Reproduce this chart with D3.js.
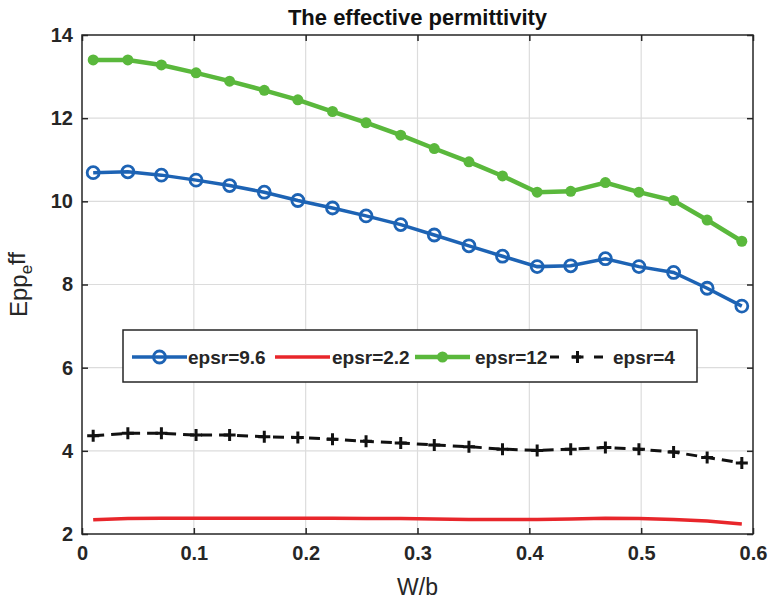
<!DOCTYPE html>
<html>
<head>
<meta charset="utf-8">
<script src="https://cdn.jsdelivr.net/npm/d3@7"></script>
<style>
  body { margin: 0; background: #fff; }
  svg { display: block; font-family: "Liberation Sans", Arial, sans-serif; }
</style>
</head>
<body>
<div id="chart"></div>
<script>
// W/b samples
var xVals = [0.010, 0.041, 0.071, 0.102, 0.132, 0.163, 0.193, 0.224, 0.254, 0.285,
             0.315, 0.346, 0.376, 0.407, 0.437, 0.468, 0.498, 0.529, 0.559, 0.590];
// effective permittivity for each substrate
var eps96 = [10.69, 10.71, 10.63, 10.51, 10.38, 10.22, 10.02, 9.84, 9.65, 9.44,
             9.19, 8.93, 8.68, 8.43, 8.45, 8.62, 8.43, 8.29, 7.91, 7.48];
var eps22 = [2.34, 2.37, 2.38, 2.38, 2.38, 2.38, 2.38, 2.38, 2.37, 2.37,
             2.36, 2.35, 2.35, 2.35, 2.36, 2.38, 2.37, 2.35, 2.31, 2.24];
var eps12 = [13.40, 13.40, 13.28, 13.09, 12.89, 12.67, 12.44, 12.16, 11.89, 11.59,
             11.27, 10.95, 10.61, 10.22, 10.24, 10.45, 10.22, 10.02, 9.55, 9.04];
var eps4  = [4.36, 4.42, 4.42, 4.38, 4.38, 4.34, 4.32, 4.28, 4.23, 4.19,
             4.14, 4.10, 4.04, 4.01, 4.04, 4.08, 4.04, 3.97, 3.84, 3.71];
var seriesNames = ["epsr=9.6", "epsr=2.2", "epsr=12", "epsr=4"];
var xTicks = [0, 0.1, 0.2, 0.3, 0.4, 0.5, 0.6];
var yTicks = [2, 4, 6, 8, 10, 12, 14];

var W = 768, H = 602;
var margin = {top: 35, right: 15, bottom: 68, left: 82};
var width = W - margin.left - margin.right,
    height = H - margin.top - margin.bottom;

var svg = d3.select("#chart").append("svg")
    .attr("width", W)
    .attr("height", H);

var g = svg.append("g")
    .attr("transform", "translate(" + margin.left + "," + margin.top + ")");

var x = d3.scaleLinear().domain([0, 0.6]).range([0, width]);
var y = d3.scaleLinear().domain([2, 14]).range([height, 0]);

// grid
g.append("g").selectAll("line.gx")
  .data(xTicks.slice(1, -1))
  .enter().append("line")
    .attr("x1", d => x(d)).attr("x2", d => x(d))
    .attr("y1", 0).attr("y2", height)
    .style("stroke", "#dcdcdc").style("stroke-width", 1.2);
g.append("g").selectAll("line.gy")
  .data(yTicks.slice(1, -1))
  .enter().append("line")
    .attr("x1", 0).attr("x2", width)
    .attr("y1", d => y(d)).attr("y2", d => y(d))
    .style("stroke", "#dcdcdc").style("stroke-width", 1.2);

// axes (ticks pointing inward, matlab style)
function styleAxis(sel) {
  sel.select(".domain").remove();
  sel.selectAll(".tick line").style("stroke", "#262626").style("stroke-width", 1.5);
  sel.selectAll(".tick text")
    .style("font-size", "20px").style("font-weight", "bold").style("fill", "#262626");
}
g.append("g")
  .attr("transform", "translate(0," + height + ")")
  .call(d3.axisBottom(x).tickValues(xTicks).tickSize(-6).tickPadding(12).tickFormat(d3.format("")))
  .call(styleAxis);
g.append("g")
  .call(d3.axisTop(x).tickValues(xTicks).tickSize(-6).tickFormat(""))
  .call(styleAxis);
g.append("g")
  .call(d3.axisLeft(y).tickValues(yTicks).tickSize(-6).tickPadding(9))
  .call(styleAxis);
g.append("g")
  .attr("transform", "translate(" + width + ",0)")
  .call(d3.axisRight(y).tickValues(yTicks).tickSize(-6).tickFormat(""))
  .call(styleAxis);

g.append("rect")
  .attr("width", width).attr("height", height)
  .style("fill", "none").style("stroke", "#262626").style("stroke-width", 1.5);

// data
var pts = function (vals) { return vals.map(function (v, i) { return [xVals[i], v]; }); };
var line = d3.line().x(d => x(d[0])).y(d => y(d[1]));

var blue = "#1d63b4", red = "#e8262b", green = "#5ab83c";

g.append("path").datum(pts(eps22)).attr("d", line)
  .style("fill", "none").style("stroke", red).style("stroke-width", 3.5);

g.append("path").datum(pts(eps4)).attr("d", line)
  .style("fill", "none").style("stroke", "#111").style("stroke-width", 3)
  .style("stroke-dasharray", "11,7");
g.append("g").selectAll("path")
  .data(pts(eps4)).enter().append("path")
    .attr("d", "M-6,0H6M0,-6V6")
    .attr("transform", d => "translate(" + x(d[0]) + "," + y(d[1]) + ")")
    .style("stroke", "#111").style("stroke-width", 3);

g.append("path").datum(pts(eps96)).attr("d", line)
  .style("fill", "none").style("stroke", blue).style("stroke-width", 3.5);
g.append("g").selectAll("circle")
  .data(pts(eps96)).enter().append("circle")
    .attr("cx", d => x(d[0])).attr("cy", d => y(d[1])).attr("r", 6)
    .style("fill", "none").style("stroke", blue).style("stroke-width", 2.8);

g.append("path").datum(pts(eps12)).attr("d", line)
  .style("fill", "none").style("stroke", green).style("stroke-width", 4.5);
g.append("g").selectAll("circle")
  .data(pts(eps12)).enter().append("circle")
    .attr("cx", d => x(d[0])).attr("cy", d => y(d[1])).attr("r", 5.5)
    .style("fill", green);

// legend
var leg = svg.append("g").attr("transform", "translate(123,330)");
leg.append("rect").attr("width", 574).attr("height", 52)
  .style("fill", "#fff").style("stroke", "#262626").style("stroke-width", 1.5);
var items = [
  {x0: 9,   tx: 65,  color: blue,  mark: "open"},
  {x0: 152, tx: 209, color: red,   mark: "none"},
  {x0: 292, tx: 352, color: green, mark: "dot"},
  {x0: 427, tx: 490, color: "#111", mark: "plus"}
];
items.forEach(function (it, i) {
  var ly = 27;
  var l = leg.append("line")
    .attr("x1", it.x0).attr("x2", it.x0 + 55)
    .attr("y1", ly).attr("y2", ly)
    .style("stroke", it.color).style("stroke-width", 3.5);
  var cx = it.x0 + 27.5;
  if (it.mark == "open") {
    leg.append("circle").attr("cx", cx).attr("cy", ly).attr("r", 6)
      .style("fill", "none").style("stroke", it.color).style("stroke-width", 2.8);
  } else if (it.mark == "dot") {
    l.style("stroke-width", 4.5);
    leg.append("circle").attr("cx", cx).attr("cy", ly).attr("r", 5.5).style("fill", it.color);
  } else if (it.mark == "plus") {
    l.style("stroke-width", 3).style("stroke-dasharray", "9,13");
    leg.append("path").attr("d", "M-6,0H6M0,-6V6")
      .attr("transform", "translate(" + cx + "," + ly + ")")
      .style("stroke", it.color).style("stroke-width", 3);
  }
  leg.append("text")
    .attr("x", it.tx).attr("y", ly).attr("dy", "0.35em")
    .style("font-size", "19px").style("font-weight", "bold").style("fill", "#262626")
    .text(seriesNames[i]);
});

// title and axis labels
svg.append("text")
  .attr("x", margin.left + width / 2).attr("y", 25)
  .attr("text-anchor", "middle")
  .style("font-size", "22px").style("font-weight", "bold").style("fill", "#111")
  .text("The effective permittivity");

svg.append("text")
  .attr("x", margin.left + width / 2).attr("y", 595)
  .attr("text-anchor", "middle")
  .style("font-size", "23px").style("fill", "#262626")
  .text("W/b");

var yl = svg.append("text")
  .attr("transform", "translate(27," + (margin.top + height / 2) + ") rotate(-90)")
  .attr("text-anchor", "middle")
  .style("font-size", "24px").style("fill", "#262626");
yl.append("tspan").text("Epp");
yl.append("tspan").attr("dy", "0.3em").style("font-size", "17px").text("e");
yl.append("tspan").attr("dy", "-0.3em").text("ff");
</script>
</body>
</html>
